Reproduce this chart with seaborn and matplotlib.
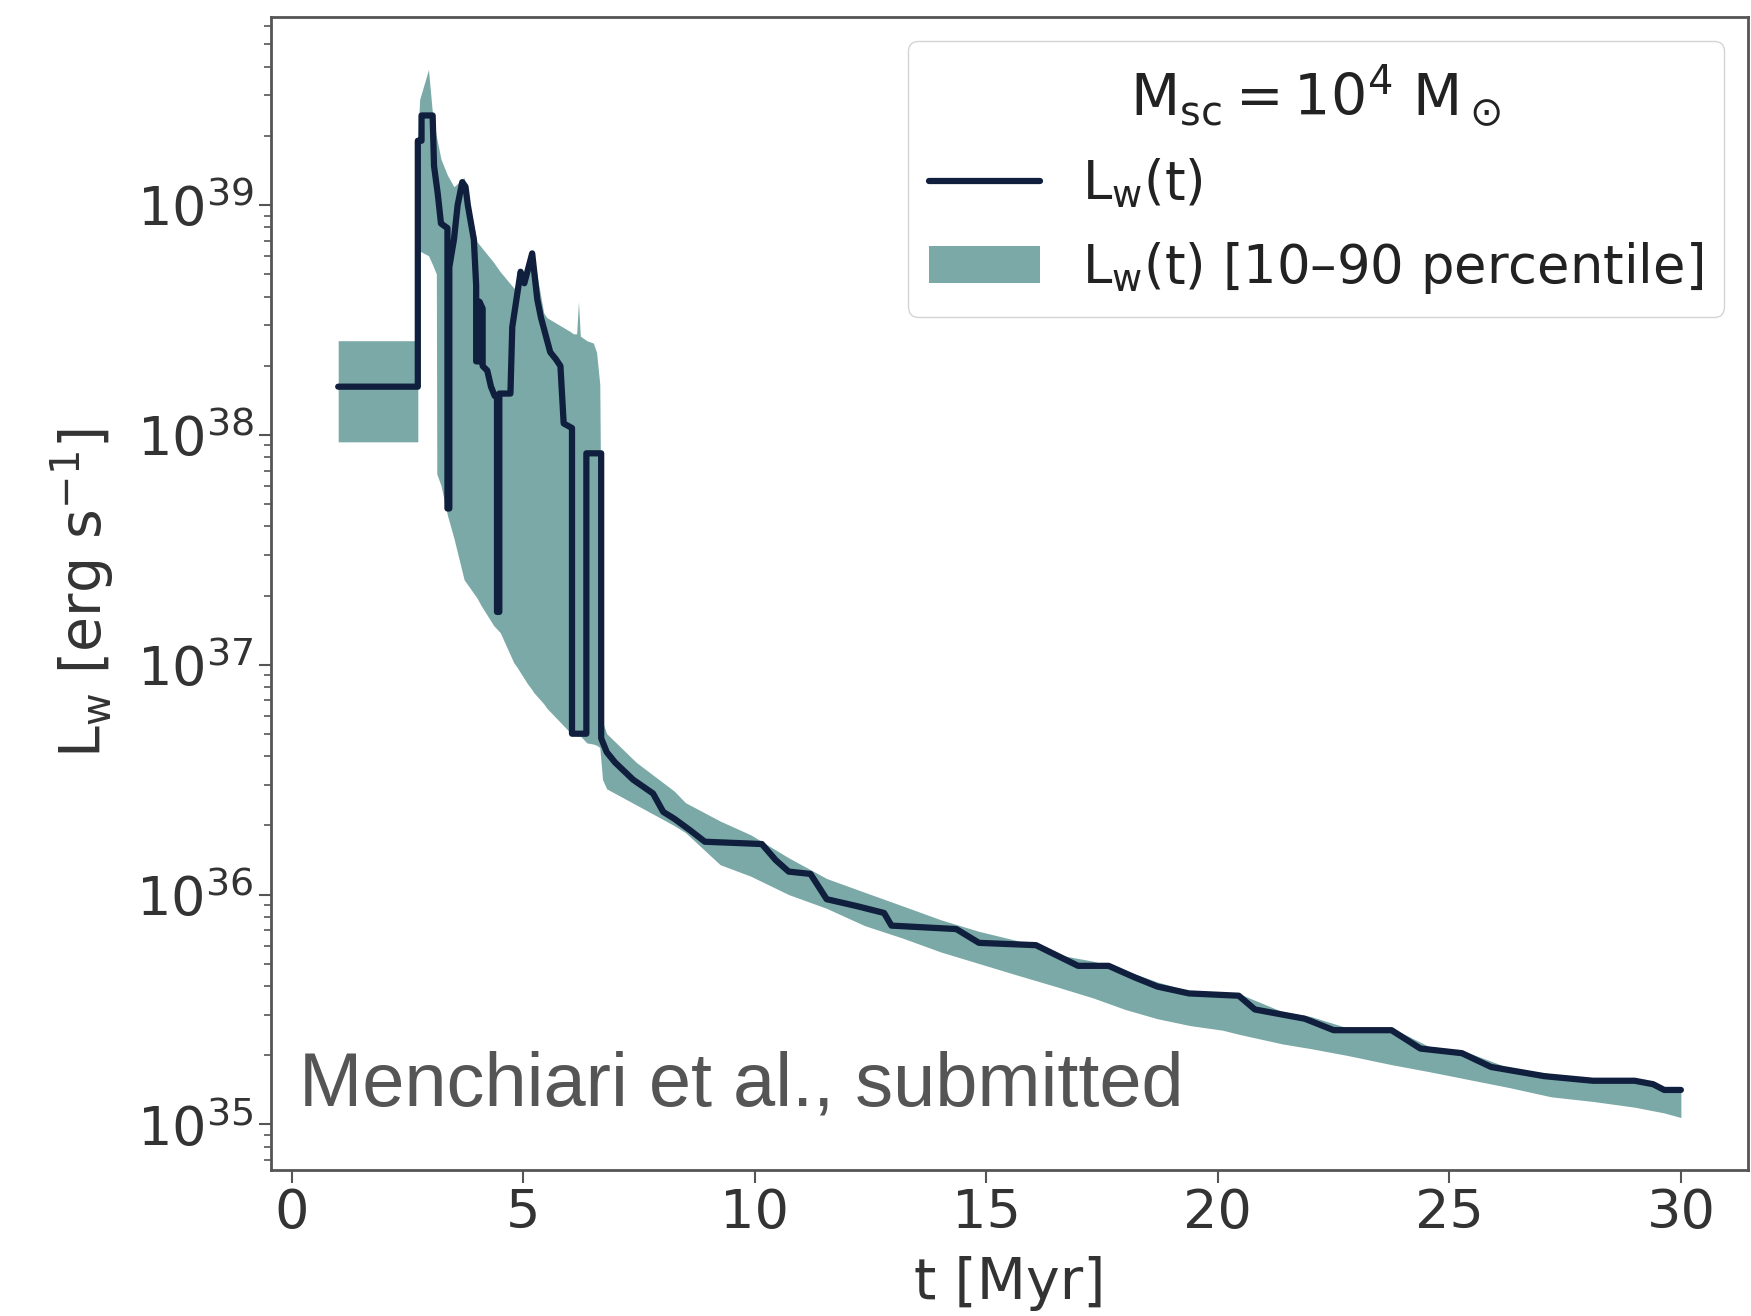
import numpy as np
import pandas as pd
import matplotlib
matplotlib.use("Agg")
import matplotlib.pyplot as plt
import seaborn as sns
from matplotlib.patches import Patch
from matplotlib.lines import Line2D

# ---- data (log10 of L_w in erg/s) ----
line_t = [1.00, 2.72, 2.72, 2.80, 2.80, 3.04, 3.07, 3.15, 3.22, 3.36, 3.36, 3.40, 3.40, 3.50,
          3.58, 3.68, 3.75, 3.80, 3.93, 3.98, 3.98, 4.05, 4.05, 4.12, 4.12, 4.22, 4.30, 4.38,
          4.43, 4.43, 4.48, 4.48, 4.72, 4.76, 4.94, 5.02, 5.19, 5.30, 5.38, 5.58, 5.70, 5.80,
          5.87, 6.05, 6.05, 6.36, 6.36, 6.68, 6.68, 6.80, 6.98, 7.37, 7.80, 8.02, 8.26,
          8.60, 8.92, 10.15, 10.45, 10.73, 11.20, 11.55, 12.20, 12.79, 12.95, 14.35, 14.84,
          16.07, 16.98, 17.64, 18.20, 18.69, 19.375, 20.45, 20.80, 21.875, 22.50, 23.75,
          24.375, 25.27, 25.90, 27.05, 28.10, 29.00, 29.40, 29.64, 30.00]
line_logL = [38.21, 38.21, 39.28, 39.28, 39.39, 39.39, 39.17, 39.05, 38.92, 38.90, 37.68, 37.68,
             38.73, 38.85, 39.00, 39.10, 39.08, 39.00, 38.85, 38.65, 38.32, 38.32, 38.58, 38.55,
             38.30, 38.28, 38.21, 38.17, 38.17, 37.23, 37.23, 38.18, 38.18, 38.47, 38.71, 38.66,
             38.79, 38.59, 38.51, 38.36, 38.33, 38.30, 38.05, 38.03, 36.70, 36.70, 37.92, 37.92,
             36.68, 36.62, 36.575, 36.50, 36.44, 36.36, 36.33, 36.28, 36.23, 36.22, 36.15,
             36.10, 36.09, 35.98, 35.95, 35.92, 35.865, 35.85, 35.79, 35.78, 35.69, 35.69, 35.64,
             35.60, 35.57, 35.56, 35.50, 35.46, 35.41, 35.41, 35.33, 35.31, 35.25, 35.21, 35.19,
             35.19, 35.175, 35.15, 35.15]

band_t = [1.00, 2.72, 2.72, 2.76, 2.95, 3.04, 3.12, 3.13, 3.22, 3.36, 3.50, 3.72, 4.00, 4.08,
          4.36, 4.50, 4.79, 4.86, 5.08, 5.19, 5.22, 5.44, 5.51, 6.01, 6.08, 6.15, 6.19, 6.23,
          6.37, 6.51, 6.58, 6.65, 6.71, 6.80, 7.44, 8.26, 8.50, 9.25, 9.91, 10.73, 11.55, 12.37,
          13.20, 14.02, 14.84, 15.66, 16.50, 17.31, 18.00, 18.69, 19.40, 20.10, 20.50, 21.40,
          22.00, 22.80, 23.75, 24.55, 25.30, 26.30, 27.20, 28.10, 29.00, 29.64, 30.00]
band_lo_logL = [37.97, 37.97, 38.80, 38.80, 38.78, 38.74, 38.70, 37.83, 37.78, 37.65, 37.55,
                37.37, 37.29, 37.26, 37.17, 37.14, 37.01, 36.99, 36.92, 36.89, 36.88, 36.83,
                36.81, 36.705, 36.70, 36.69, 36.69, 36.69, 36.66, 36.655, 36.65, 36.64, 36.50,
                36.46, 36.39, 36.30, 36.27, 36.13, 36.08, 36.00, 35.94, 35.865, 35.81, 35.75,
                35.70, 35.65, 35.60, 35.55, 35.50, 35.46, 35.43, 35.41, 35.39, 35.35, 35.33,
                35.30, 35.26, 35.23, 35.20, 35.16, 35.12, 35.10, 35.075, 35.05, 35.03]
band_hi_logL = [38.41, 38.41, 39.30, 39.46, 39.59, 39.39, 39.30, 39.29, 39.20, 39.13, 39.08,
                39.12, 38.84, 38.82, 38.75, 38.71, 38.64, 38.63, 38.72, 38.80, 38.78, 38.53,
                38.51, 38.45, 38.44, 38.44, 38.58, 38.43, 38.41, 38.40, 38.36, 38.22, 36.75,
                36.70, 36.575, 36.45, 36.40, 36.32, 36.26, 36.16, 36.07, 36.01, 35.95, 35.89,
                35.84, 35.80, 35.74, 35.71, 35.67, 35.62, 35.58, 35.57, 35.565, 35.49, 35.47,
                35.42, 35.42, 35.34, 35.32, 35.245, 35.22, 35.20, 35.195, 35.16, 35.16]

legend_title = r"$M_{sc} = 10^4\ M_\odot$"
line_label = r"$L_w$(t)"
band_label = r"$L_w$(t) [10–90 percentile]"
x_label = "t [Myr]"
y_label = r"$L_w$ [erg s$^{-1}$]"
note_text = "Menchiari et al., submitted"

navy = "#0f1f3d"
teal = "#7ba9a7"

sns.set_theme(style="ticks")
plt.rcParams['font.family'] = ['DejaVu Sans']
plt.rcParams['mathtext.default'] = 'regular'

fig = plt.figure(figsize=(17.51, 13.16), dpi=100)
ax = fig.add_axes([0.1548, 0.111, 0.8435, 0.876])

ax.fill_between(band_t, 10 ** np.array(band_lo_logL), 10 ** np.array(band_hi_logL),
                color=teal, linewidth=0, zorder=1)
df = pd.DataFrame({"t": line_t, "L": 10 ** np.array(line_logL)})
sns.lineplot(data=df, x="t", y="L", estimator=None, sort=False, ax=ax,
             color=navy, linewidth=4.5, zorder=2)
ax.set_yscale("log")
ax.set_xticks([0, 5, 10, 15, 20, 25, 30])

ax.set_xlabel(x_label, fontsize=41, color="#333333", labelpad=12)
ax.set_ylabel(y_label, fontsize=41, color="#333333", labelpad=14)
ax.tick_params(axis="both", which="major", labelsize=39, labelcolor="#333333",
               color="#555555", length=9, width=1.5)
ax.tick_params(axis="y", which="minor", color="#555555", length=5, width=1.2)
for s in ax.spines.values():
    s.set_color("#555555")
    s.set_linewidth(2)

handles = [Line2D([], [], color=navy, linewidth=4.5),
           Patch(facecolor=teal, edgecolor="none")]
leg = ax.legend(handles=handles, labels=[line_label, band_label], title=legend_title,
                loc="upper right", fontsize=38, title_fontsize=41, frameon=True,
                fancybox=True, framealpha=0.9, edgecolor="#d0d0d0",
                handlelength=2.1, labelspacing=0.55, borderaxespad=0.45)
for t in leg.get_texts():
    t.set_color("#222222")
leg.get_title().set_color("#222222")

fig.text(0.171, 0.160, note_text, fontsize=54.5, color="#555555",
         family="Liberation Sans", va="baseline", ha="left")

fig.savefig("out.png", dpi=100)
